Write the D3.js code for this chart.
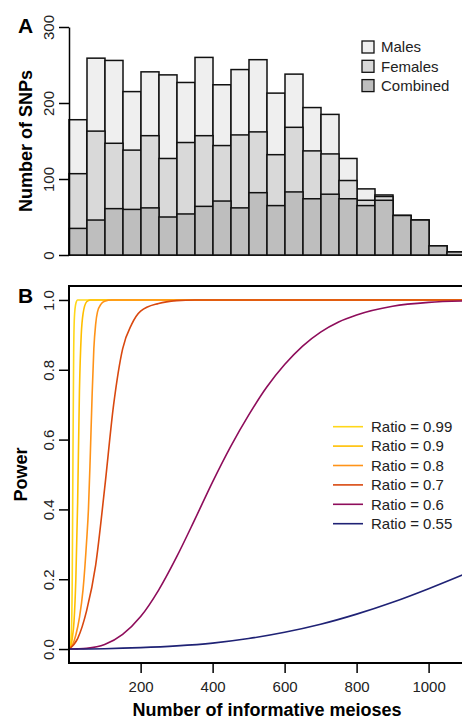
<!DOCTYPE html>
<html>
<head>
<meta charset="utf-8">
<script src="https://cdn.jsdelivr.net/npm/d3@7"></script>
<style>
  body { margin: 0; background: #fff; }
  svg { display: block; font-family: "Liberation Sans", Arial, sans-serif; }
</style>
</head>
<body>
<svg id="chart" width="462" height="719"></svg>
<script>
// Panel A data: SNP counts per bin of 50 informative meioses
const binStarts = [0, 50, 100, 150, 200, 250, 300, 350, 400, 450, 500, 550, 600, 650, 700, 750, 800, 850, 900, 950, 1000, 1050];
const males    = [178, 259, 256, 215, 241, 237, 227, 260, 224, 244, 257, 213, 238, 194, 185, 127, 87, 79, 52, 46, 12, 4];
const females  = [107, 163, 147, 138, 157, 127, 148, 157, 144, 158, 162, 132, 168, 137, 133, 98, 72, 77, 52, 46, 12, 4];
const combined = [35, 46, 61, 60, 62, 50, 54, 64, 71, 62, 82, 65, 83, 74, 80, 74, 65, 72, 52, 46, 12, 4];
const countTicks = [0, 100, 200, 300];
const histLabels = ['Males', 'Females', 'Combined'];

// Panel B data: power vs number of informative meioses, [n, power]
const ratioLabels = ['Ratio = 0.99', 'Ratio = 0.9', 'Ratio = 0.8', 'Ratio = 0.7', 'Ratio = 0.6', 'Ratio = 0.55'];
const pow099 = [[1,0],[5,0.01],[8,0.06],[10,0.2],[12,0.55],[14,0.85],[16,0.95],[20,0.99],[25,1],[1100,1]];
const pow09  = [[1,0],[5,0.005],[10,0.03],[15,0.08],[20,0.2],[25,0.42],[30,0.74],[35,0.9],[40,0.96],[50,0.995],[60,1],[1100,1]];
const pow08  = [[1,0],[10,0.01],[20,0.04],[30,0.09],[40,0.17],[50,0.31],[55,0.4],[60,0.55],[65,0.72],[70,0.86],[75,0.93],[80,0.965],[90,0.988],[100,0.996],[120,1],[1100,1]];
const pow07  = [[1,0],[25,0.03],[50,0.11],[75,0.24],[100,0.46],[125,0.7],[150,0.86],[175,0.93],[200,0.968],[250,0.99],[300,0.998],[350,1],[1100,1]];
const pow06  = [[1,0],[25,0.0005],[50,0.002],[100,0.013],[150,0.042],[200,0.093],[250,0.169],[300,0.264],[350,0.37],[400,0.479],[450,0.58],[500,0.67],[550,0.75],[600,0.815],[650,0.868],[700,0.908],[750,0.937],[800,0.957],[900,0.982],[1000,0.993],[1100,0.997]];
const pow055 = [[1,0],[100,0.001],[200,0.004],[300,0.009],[400,0.017],[500,0.03],[600,0.048],[700,0.071],[800,0.1],[900,0.134],[1000,0.173],[1100,0.215]];
const meiosisTicks = [200, 400, 600, 800, 1000];
const powerTicks = [0, 0.2, 0.4, 0.6, 0.8, 1.0];

const svg = d3.select('#chart');
const histFill = ['#efefef', '#d9d9d9', '#bebebe'];
const lineColors = ['#ffd71a', '#ffbf00', '#ff9318', '#d9480f', '#8e0d5b', '#1f2275'];

// ---------- Panel A ----------
const xTop = d3.scaleLinear().domain([0, 1100]).range([69, 465]);
const yTop = d3.scaleLinear().domain([0, 300]).range([255, 27]);
const binW = xTop(50) - xTop(0);

[males, females, combined].forEach(function(series, si) {
  svg.append('g')
    .selectAll('rect')
    .data(series)
    .join('rect')
    .attr('x', (d, i) => xTop(binStarts[i]))
    .attr('y', d => yTop(d))
    .attr('width', binW)
    .attr('height', d => yTop(0) - yTop(d))
    .attr('fill', histFill[si])
    .attr('stroke', '#111')
    .attr('stroke-width', 1.5);
});

const yAxisTop = svg.append('g')
  .attr('transform', 'translate(69,0)')
  .call(d3.axisLeft(yTop).tickValues(countTicks).tickSize(10).tickSizeOuter(0));
yAxisTop.select('.domain').attr('stroke-width', 1.5);
yAxisTop.selectAll('.tick line').attr('stroke-width', 1.5);
yAxisTop.selectAll('.tick text')
  .attr('transform', 'rotate(-90)')
  .attr('x', 0).attr('y', -15).attr('dy', 0)
  .attr('text-anchor', 'middle')
  .style('font-size', '15px').style('font-family', 'inherit').attr('fill', '#222');

svg.append('text')
  .attr('transform', 'translate(32,141) rotate(-90)')
  .attr('text-anchor', 'middle')
  .style('font-size', '18px').style('font-weight', 'bold')
  .text('Number of SNPs');

svg.append('text').attr('x', 18).attr('y', 33)
  .style('font-size', '21px').style('font-weight', 'bold').text('A');

const legTop = svg.append('g')
  .selectAll('g')
  .data(histLabels)
  .join('g')
  .attr('transform', (d, i) => 'translate(362,' + (47 + i * 19.3) + ')');
legTop.append('rect')
  .attr('x', 0).attr('y', -6).attr('width', 12).attr('height', 12)
  .attr('fill', (d, i) => histFill[i]).attr('stroke', '#111').attr('stroke-width', 1.3);
legTop.append('text')
  .attr('x', 19).attr('dy', '0.35em')
  .style('font-size', '15px').attr('fill', '#222')
  .text(d => d);

// ---------- Panel B ----------
const xBot = d3.scaleLinear().domain([1, 1100]).range([69, 464.6]);
const yBot = d3.scaleLinear().domain([-0.04, 1.04]).range([663, 286]);

svg.append('clipPath').attr('id', 'plotB')
  .append('rect').attr('x', 69).attr('y', 286).attr('width', 400).attr('height', 377);

const line = d3.line()
  .x(d => xBot(d[0]))
  .y(d => yBot(d[1]))
  .curve(d3.curveMonotoneX);

const curves = [pow099, pow09, pow08, pow07, pow06, pow055];
svg.append('g').attr('clip-path', 'url(#plotB)')
  .selectAll('path')
  .data(curves)
  .join('path')
  .attr('d', line)
  .attr('fill', 'none')
  .attr('stroke', (d, i) => lineColors[i])
  .attr('stroke-width', 1.6);

svg.append('rect')
  .attr('x', 69).attr('y', 286).attr('width', 400).attr('height', 377)
  .attr('fill', 'none').attr('stroke', '#000').attr('stroke-width', 2);

const xAxisBot = svg.append('g')
  .attr('transform', 'translate(0,663)')
  .call(d3.axisBottom(xBot).tickValues(meiosisTicks).tickFormat(d3.format('d'))
    .tickSize(10).tickSizeOuter(0).tickPadding(8));
xAxisBot.select('.domain').remove();
xAxisBot.selectAll('.tick line').attr('stroke-width', 1.5);
xAxisBot.selectAll('.tick text')
  .style('font-size', '15px').style('font-family', 'inherit').attr('fill', '#222');

const yAxisBot = svg.append('g')
  .attr('transform', 'translate(69,0)')
  .call(d3.axisLeft(yBot).tickValues(powerTicks).tickFormat(d3.format('.1f')).tickSize(10).tickSizeOuter(0));
yAxisBot.select('.domain').remove();
yAxisBot.selectAll('.tick line').attr('stroke-width', 1.5);
yAxisBot.selectAll('.tick text')
  .attr('transform', 'rotate(-90)')
  .attr('x', 0).attr('y', -15).attr('dy', 0)
  .attr('text-anchor', 'middle')
  .style('font-size', '15px').style('font-family', 'inherit').attr('fill', '#222');

svg.append('text')
  .attr('transform', 'translate(27,474.5) rotate(-90)')
  .attr('text-anchor', 'middle')
  .style('font-size', '18px').style('font-weight', 'bold')
  .text('Power');

svg.append('text')
  .attr('x', 267).attr('y', 716)
  .attr('text-anchor', 'middle')
  .style('font-size', '18px').style('font-weight', 'bold')
  .text('Number of informative meioses');

svg.append('text').attr('x', 18).attr('y', 303)
  .style('font-size', '21px').style('font-weight', 'bold').text('B');

const legBot = svg.append('g')
  .selectAll('g')
  .data(ratioLabels)
  .join('g')
  .attr('transform', (d, i) => 'translate(333,' + (426.7 + i * 19.4) + ')');
legBot.append('line')
  .attr('x1', 0).attr('x2', 30)
  .attr('stroke', (d, i) => lineColors[i]).attr('stroke-width', 1.6);
legBot.append('text')
  .attr('x', 38).attr('dy', '0.35em')
  .style('font-size', '15px').attr('fill', '#222')
  .text(d => d);
</script>
</body>
</html>
